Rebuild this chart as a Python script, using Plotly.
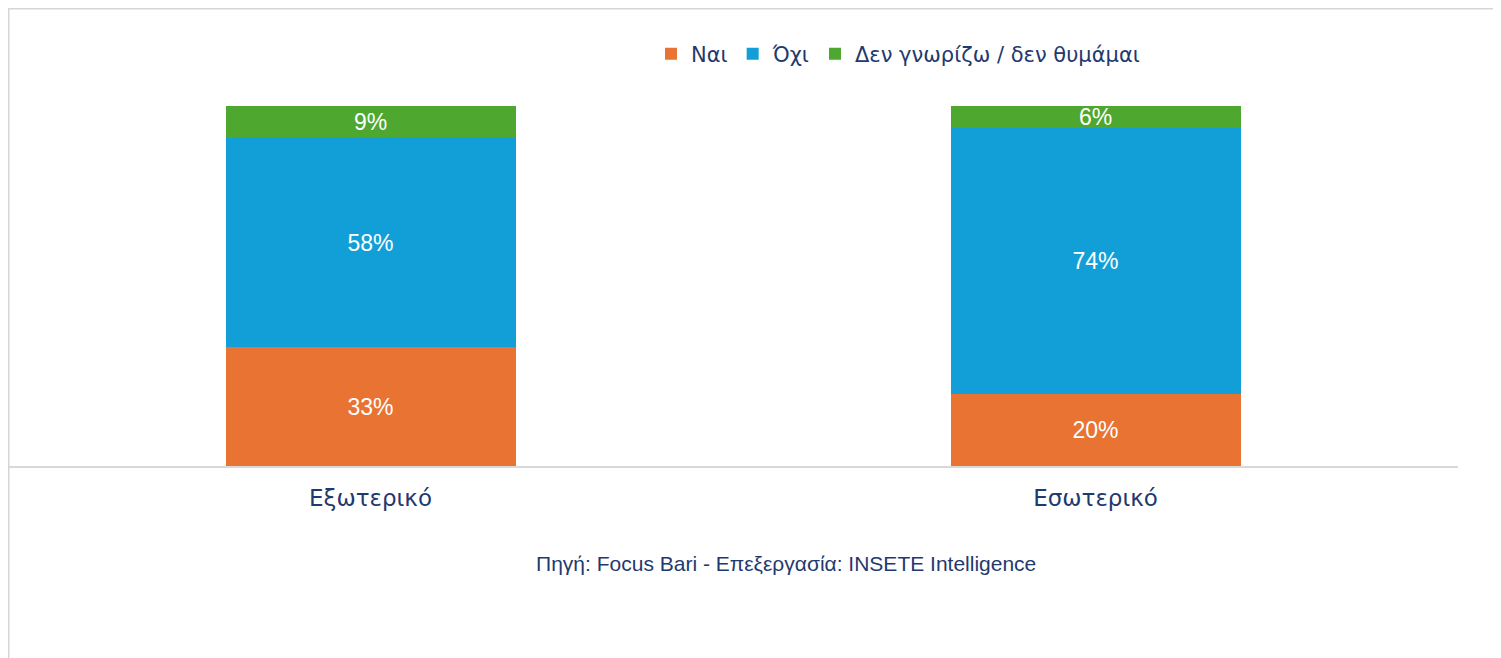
import plotly.graph_objects as go

categories = ["Εξωτερικό", "Εσωτερικό"]
series_names = ["Ναι", "Όχι", "Δεν γνωρίζω / δεν θυμάμαι"]
yes_vals = [33, 20]
no_vals = [58, 74]
dk_vals = [9, 6]
colors = ["#E97333", "#129FD7", "#4EA72E"]
source_text = "Πηγή: Focus Bari - Επεξεργασία: INSETE Intelligence"

navy = "#1F3A6E"
arial = "Liberation Sans, Arial, sans-serif"
wide = "DejaVu Sans, Verdana, sans-serif"

fig = go.Figure()
for name, vals, col in zip(series_names, [yes_vals, no_vals, dk_vals], colors):
    fig.add_trace(go.Bar(
        x=categories, y=vals, name=name,
        marker=dict(color=col, line=dict(width=0)),
        text=[f"{v}%" for v in vals],
        textposition="inside", insidetextanchor="middle",
        textfont=dict(color="white", size=23, family=arial),
        constraintext="none",
    ))

OFF = 8  # page body margin offset
W, H = 1501, 658
# target screen positions
left_s, right_s, top_s, bot_s = 8, 1458, 106, 466
l = left_s - OFF
r = W - (right_s - OFF)
t = top_s - OFF
b = H - (bot_s - OFF)
pw, ph = W - l - r, H - t - b

def px(xs):
    return (xs - OFF - l) / pw

def py(ys):
    return (H - b - (ys - OFF)) / ph

fig.update_layout(
    width=W, height=H,
    barmode="stack", bargap=0.6,
    plot_bgcolor="white", paper_bgcolor="white",
    margin=dict(l=l, r=r, t=t, b=b, autoexpand=False),
    font=dict(family=arial, color=navy),
    showlegend=True,
    legend=dict(orientation="h", x=px(898), y=py(54), xanchor="center", yanchor="middle",
                font=dict(size=21, color=navy, family=wide), traceorder="normal",
                itemwidth=30, bgcolor="rgba(0,0,0,0)"),
    uniformtext=dict(mode=False),
    annotations=[dict(text=source_text, xref="paper", yref="paper",
                      x=px(786), y=py(563), xanchor="center", yanchor="middle",
                      showarrow=False, font=dict(size=21, color=navy, family=arial))],
    shapes=[
        dict(type="line", xref="paper", yref="paper", x0=px(8), x1=px(1520), y0=py(8), y1=py(8),
             line=dict(color="#D6D6D6", width=3)),
        dict(type="line", xref="paper", yref="paper", x0=px(8), x1=px(8), y0=py(8), y1=py(680),
             line=dict(color="#D6D6D6", width=3)),
    ],
)
fig.update_xaxes(showline=True, linecolor="#D9D9D9", linewidth=2, ticks="",
                 tickfont=dict(size=23, color=navy, family=wide), showgrid=False,
                 ticklabelstandoff=10)
fig.update_yaxes(range=[0, 100], visible=False, showgrid=False)

fig.write_html("out.html")
